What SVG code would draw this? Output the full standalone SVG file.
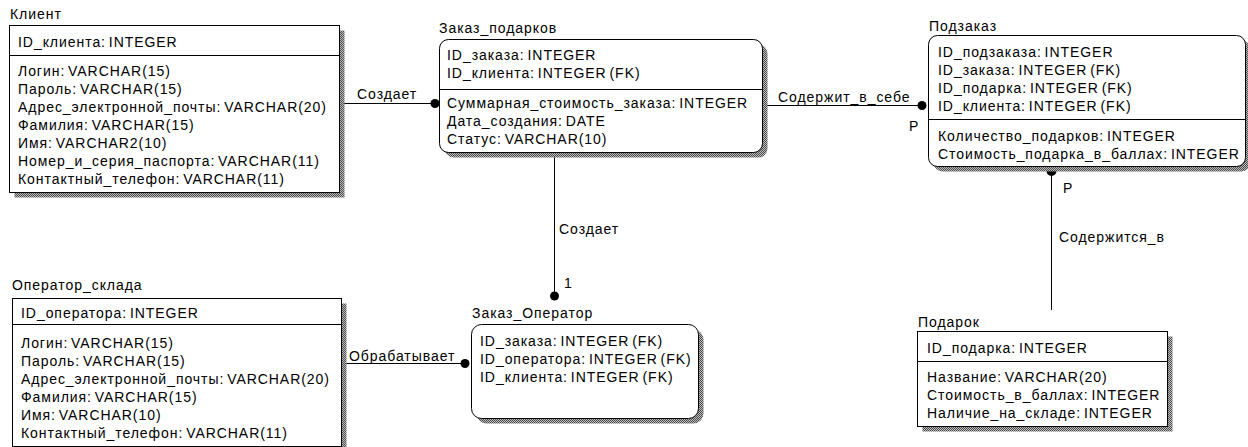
<svg xmlns="http://www.w3.org/2000/svg" width="1248" height="447" viewBox="0 0 1248 447">
  <defs>
    <!-- dithered drop shadow used under every entity box -->
    <pattern id="dither" width="2" height="2" patternUnits="userSpaceOnUse">
      <rect width="2" height="2" fill="#b8b8b8"/>
      <rect width="1" height="1" fill="#505050"/>
      <rect x="1" y="1" width="1" height="1" fill="#505050"/>
    </pattern>
  </defs>
  <style>
    text { font-family: "Liberation Sans", Arial, sans-serif; font-size: 14px; letter-spacing: 0.95px; word-spacing: -2px; fill: #000; }
    .box { fill: #fff; stroke: #000; stroke-width: 1; }
    .shadow { fill: url(#dither); stroke: none; }
    .div { stroke: #000; stroke-width: 1; }
    .rel { stroke: #000; stroke-width: 1; fill: none; }
    .dot { fill: #000; }
  </style>
  <rect width="1248" height="447" fill="#fff"/>

  <!-- relationships -->
  <g id="connectors">
    <line class="rel" x1="339" y1="103.5" x2="435" y2="103.5"/>
    <circle class="dot" cx="435" cy="103.5" r="4.5"/>
    <text x="357" y="99">Создает</text>

    <line class="rel" x1="762" y1="105.5" x2="922" y2="105.5"/>
    <circle class="dot" cx="922" cy="105.5" r="4.5"/>
    <text x="778" y="102">Содержит_в_себе</text>
    <text x="909" y="131">P</text>

    <line class="rel" x1="554.5" y1="152" x2="554.5" y2="296"/>
    <circle class="dot" cx="554.5" cy="296" r="4.5"/>
    <text x="559" y="234">Создает</text>
    <text x="564" y="288">1</text>

    <line class="rel" x1="341" y1="363.5" x2="465" y2="363.5"/>
    <circle class="dot" cx="465" cy="363.5" r="4.5"/>
    <text x="349" y="361">Обрабатывает</text>

    <line class="rel" x1="1051.5" y1="166" x2="1051.5" y2="310"/>
    <circle class="dot" cx="1051.5" cy="171" r="5"/>
    <text x="1063" y="193">P</text>
    <text x="1059" y="242">Содержится_в</text>
  </g>

  <!-- Клиент -->
  <g id="klient">
    <text x="10" y="19">Клиент</text>
    <rect class="shadow" x="14.5" y="30.5" width="330" height="167"/>
    <rect class="box" x="9.5" y="25.5" width="330" height="167"/>
    <line class="div" x1="9.5" y1="55.5" x2="339.5" y2="55.5"/>
    <text x="18" y="47">ID_клиента: INTEGER</text>
    <text x="18" y="75.5">Логин: VARCHAR(15)</text>
    <text x="18" y="93.5">Пароль: VARCHAR(15)</text>
    <text x="18" y="111.5">Адрес_электронной_почты: VARCHAR(20)</text>
    <text x="18" y="129.5">Фамилия: VARCHAR(15)</text>
    <text x="18" y="147.5">Имя: VARCHAR2(10)</text>
    <text x="18" y="165.5">Номер_и_серия_паспорта: VARCHAR(11)</text>
    <text x="18" y="183.5">Контактный_телефон: VARCHAR(11)</text>
  </g>

  <!-- Заказ_подарков -->
  <g id="zakaz-podarkov">
    <text x="439" y="33">Заказ_подарков</text>
    <rect class="shadow" x="444.5" y="44.5" width="323" height="113" rx="9"/>
    <rect class="box" x="439.5" y="39.5" width="323" height="113" rx="9"/>
    <line class="div" x1="439.5" y1="89.5" x2="762.5" y2="89.5"/>
    <text x="447" y="60">ID_заказа: INTEGER</text>
    <text x="447" y="78">ID_клиента: INTEGER (FK)</text>
    <text x="447" y="108">Суммарная_стоимость_заказа: INTEGER</text>
    <text x="447" y="126">Дата_создания: DATE</text>
    <text x="447" y="144">Статус: VARCHAR(10)</text>
  </g>

  <!-- Подзаказ -->
  <g id="podzakaz">
    <text x="929" y="31">Подзаказ</text>
    <rect class="shadow" x="933.5" y="40.5" width="317" height="131" rx="9"/>
    <rect class="box" x="928.5" y="35.5" width="317" height="131" rx="9"/>
    <line class="div" x1="928.5" y1="119.5" x2="1245.5" y2="119.5"/>
    <text x="938" y="57">ID_подзаказа: INTEGER</text>
    <text x="938" y="75">ID_заказа: INTEGER (FK)</text>
    <text x="938" y="93">ID_подарка: INTEGER (FK)</text>
    <text x="938" y="111">ID_клиента: INTEGER (FK)</text>
    <text x="938" y="141">Количество_подарков: INTEGER</text>
    <text x="938" y="159">Стоимость_подарка_в_баллах: INTEGER</text>
  </g>

  <!-- Оператор_склада -->
  <g id="operator-sklada">
    <text x="12" y="290">Оператор_склада</text>
    <rect class="shadow" x="17.5" y="303.5" width="329" height="148"/>
    <rect class="box" x="12.5" y="298.5" width="329" height="148"/>
    <line class="div" x1="12.5" y1="324.5" x2="341.5" y2="324.5"/>
    <text x="21" y="318">ID_оператора: INTEGER</text>
    <text x="21" y="347.5">Логин: VARCHAR(15)</text>
    <text x="21" y="365.5">Пароль: VARCHAR(15)</text>
    <text x="21" y="383.5">Адрес_электронной_почты: VARCHAR(20)</text>
    <text x="21" y="401.5">Фамилия: VARCHAR(15)</text>
    <text x="21" y="419.5">Имя: VARCHAR(10)</text>
    <text x="21" y="437.5">Контактный_телефон: VARCHAR(11)</text>
  </g>

  <!-- Заказ_Оператор -->
  <g id="zakaz-operator">
    <text x="472" y="318">Заказ_Оператор</text>
    <rect class="shadow" x="476.5" y="329.5" width="227" height="94" rx="10"/>
    <rect class="box" x="471.5" y="324.5" width="227" height="94" rx="10"/>
    <text x="480" y="346">ID_заказа: INTEGER (FK)</text>
    <text x="480" y="364">ID_оператора: INTEGER (FK)</text>
    <text x="480" y="382">ID_клиента: INTEGER (FK)</text>
  </g>

  <!-- Подарок -->
  <g id="podarok">
    <text x="918" y="327">Подарок</text>
    <rect class="shadow" x="922.5" y="336.5" width="250" height="95"/>
    <rect class="box" x="917.5" y="331.5" width="250" height="95"/>
    <line class="div" x1="917.5" y1="361.5" x2="1167.5" y2="361.5"/>
    <text x="927" y="353">ID_подарка: INTEGER</text>
    <text x="927" y="382">Название: VARCHAR(20)</text>
    <text x="927" y="400">Стоимость_в_баллах: INTEGER</text>
    <text x="927" y="418">Наличие_на_складе: INTEGER</text>
  </g>
</svg>
